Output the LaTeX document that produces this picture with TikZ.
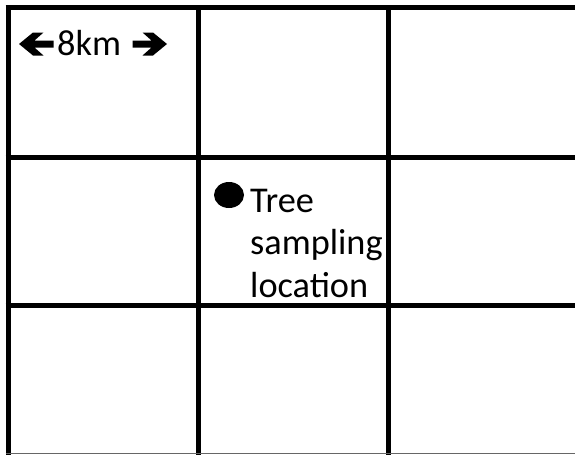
\documentclass[tikz,border=0pt]{standalone}
\usepackage{fontspec}
\setmainfont{Carlito}
\begin{document}
\begin{tikzpicture}[x=1pt,y=-1pt,
  gridline/.style={line width=5pt,black},
  label/.style={font=\fontsize{36.3}{42.5}\selectfont,inner sep=0pt,anchor=base west},
  arrowshape/.style={fill=black,draw=none}]
\useasboundingbox (0,0) rectangle (575,455);
\fill[white] (0,0) rectangle (575,455);
% grid
\draw[gridline] (8,5) -- (8,455);
\draw[gridline] (198,5) -- (198,455);
\draw[gridline] (388,5) -- (388,455);
\draw[gridline] (5.5,7.5) -- (575,7.5);
\draw[gridline] (5.5,157) -- (575,157);
\draw[gridline] (5.5,305) -- (575,305);
\draw[line width=1.5pt,black!60] (5.5,453.5) -- (575,453.5);
% scale label
\node[label] (km) at (57,55) {8km};
\coordinate (la) at (19,44);
\coordinate (ra) at (167,44);
\fill[arrowshape] (la) -- ++(14,-11.5) -- ++(10.5,0) -- ++(-9,8) -- ++(19,0) -- ++(0,7) -- ++(-19,0) -- ++(9,8) -- ++(-10.5,0) -- cycle;
\fill[arrowshape] (ra) -- ++(-14,-11.5) -- ++(-10.5,0) -- ++(9,8) -- ++(-19,0) -- ++(0,7) -- ++(19,0) -- ++(-9,8) -- ++(10.5,0) -- cycle;
% sampling location
\fill[black] (229,195) ellipse [x radius=15, y radius=13];
\node[label,align=left,anchor=north west] (loc) at (250,189) {Tree\\sampling\\location};
\end{tikzpicture}
\end{document}
